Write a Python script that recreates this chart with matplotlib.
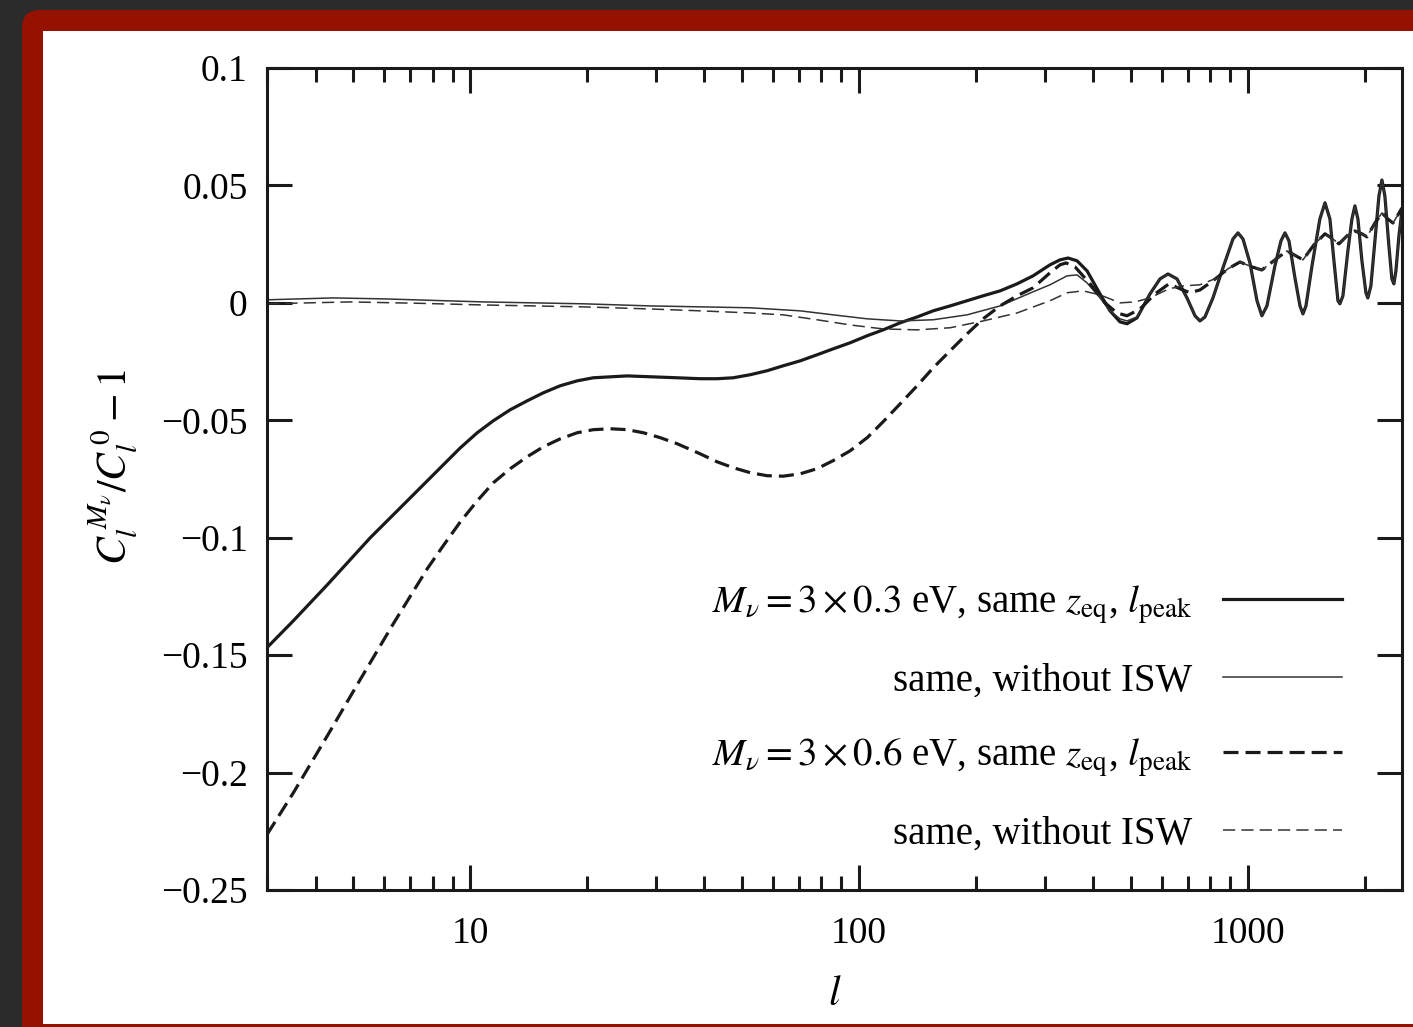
import numpy as np
import matplotlib
matplotlib.use("Agg")
import matplotlib.pyplot as plt
from matplotlib.patches import FancyBboxPatch, Rectangle
from matplotlib.transforms import IdentityTransform

plt.rcParams['font.family'] = ['Liberation Serif', 'DejaVu Serif']
plt.rcParams['mathtext.fontset'] = 'stix'

# ---- data ----
# M_nu = 3 x 0.3 eV, with ISW (thick solid), up to l ~ 520
l_a = [3.0, 3.51, 4.29, 5.53, 7.01, 9.43, 10.42, 11.46, 12.67, 14.01, 15.41, 17.03, 18.84,
       20.71, 25.33, 34.05, 39.03, 43.15, 47.45, 52.46, 58.0, 63.77, 70.5, 77.98, 85.7,
       94.81, 104.9, 115.3, 127.5, 141.0, 155.0, 171.4, 189.5, 208.4, 230.4, 254.8, 280.1,
       309.7, 328.6, 344.6, 363.5, 385.7, 416.4, 441.8, 468.8, 488.6, 518.3]
y_a = [-0.1468, -0.1353, -0.1200, -0.1000, -0.0830, -0.0617, -0.0553, -0.0502, -0.0455,
       -0.0417, -0.0383, -0.0353, -0.0332, -0.0319, -0.0311, -0.0319, -0.0323, -0.0323,
       -0.0319, -0.0306, -0.0289, -0.0268, -0.0247, -0.0221, -0.0196, -0.0170, -0.0140,
       -0.0115, -0.0085, -0.0060, -0.0034, -0.0013, 0.0009, 0.0030, 0.0051, 0.0081, 0.0115,
       0.0162, 0.0183, 0.0191, 0.0179, 0.0136, 0.0038, -0.0034, -0.0081, -0.0089, -0.0064]

# same, without ISW (thin solid), up to l ~ 520
l_b = [3.0, 4.44, 5.97, 10.8, 19.5, 29.0, 52.5, 70.5, 85.7, 104.9, 127.5, 155.0, 189.5,
       230.4, 280.1, 309.7, 342.6, 363.5, 385.7, 416.4, 441.8, 468.8, 488.6, 518.3]
y_b = [0.0013, 0.0021, 0.0017, 0.0004, -0.0004, -0.0013, -0.0021, -0.0034, -0.0051,
       -0.0068, -0.0077, -0.0072, -0.0051, -0.0013, 0.0047, 0.0077, 0.0115, 0.0119, 0.0085,
       0.0021, -0.0034, -0.0068, -0.0077, -0.0060]

# acoustic oscillations for 0.3 eV (both curves coincide here)
l_osc3 = [559.8, 594.0, 622.8, 656.9, 697.0, 730.8, 752.6, 775.2, 812.8, 862.4, 915.1,
          942.6, 971.0, 1012, 1055, 1086, 1119, 1173, 1216, 1245, 1275, 1321, 1361, 1385,
          1410, 1461, 1531, 1578, 1625, 1664, 1704, 1724, 1755, 1807, 1851, 1884, 1918,
          1964, 2011, 2034, 2071, 2121, 2172, 2211, 2250, 2304, 2345, 2373, 2402, 2445, 2489]
y_osc3 = [0.0038, 0.0102, 0.0123, 0.0102, 0.0021, -0.0055, -0.0077, -0.0060, 0.0021,
          0.0149, 0.0272, 0.0298, 0.0272, 0.0170, 0.0009, -0.0055, -0.0013, 0.0157, 0.0264,
          0.0298, 0.0264, 0.0106, -0.0013, -0.0047, -0.0013, 0.0157, 0.0357, 0.0426, 0.0357,
          0.0179, 0.0009, -0.0004, 0.0030, 0.0221, 0.0357, 0.0413, 0.0357, 0.0179, 0.0043,
          0.0021, 0.0072, 0.0264, 0.0455, 0.0523, 0.0455, 0.0243, 0.0102, 0.0081, 0.0136,
          0.0285, 0.0391]

# M_nu = 3 x 0.6 eV, with ISW (thick dashed), up to l ~ 890
l_c = [3.0, 3.51, 4.29, 5.21, 6.34, 7.75, 8.52, 9.43, 10.42, 11.46, 12.67, 14.01, 15.41,
       17.03, 18.84, 20.71, 22.91, 25.33, 27.85, 30.79, 34.05, 39.03, 43.15, 47.45, 52.46,
       58.0, 63.77, 70.5, 77.98, 85.7, 94.81, 104.9, 115.3, 127.5, 141.0, 155.0, 171.4,
       189.5, 208.4, 230.4, 254.8, 280.1, 309.7, 328.6, 340.6, 359.2, 392.7, 429.0, 460.5,
       488.6, 527.8, 576.7, 626.5, 668.7, 709.4, 752.6, 812.8, 888.3]
y_c = [-0.2264, -0.2085, -0.1843, -0.1604, -0.1366, -0.1132, -0.1034, -0.0932, -0.0843,
       -0.0766, -0.0706, -0.0655, -0.0613, -0.0579, -0.0553, -0.0540, -0.0536, -0.0540,
       -0.0553, -0.0574, -0.0600, -0.0643, -0.0677, -0.0702, -0.0723, -0.0736, -0.0738,
       -0.0728, -0.0706, -0.0672, -0.0630, -0.0574, -0.0506, -0.0430, -0.0353, -0.0277,
       -0.0204, -0.0132, -0.0068, -0.0013, 0.0030, 0.0064, 0.0128, 0.0162, 0.0170, 0.0153,
       0.0081, 0.0, -0.0043, -0.0055, -0.0026, 0.0038, 0.0081, 0.0060, 0.0043, 0.0055,
       0.0094, 0.0145]

# same, without ISW (thin dashed), up to l ~ 890
l_d = [3.0, 4.91, 7.44, 10.8, 19.5, 29.0, 39.03, 52.46, 63.77, 77.98, 94.81, 115.3, 141.0,
       171.4, 208.4, 254.8, 309.7, 342.6, 376.5, 416.4, 468.8, 512.2, 559.8, 626.5, 680.7,
       752.6, 832.5, 888.3]
y_d = [-0.0004, 0.0004, -0.0002, -0.0009, -0.0017, -0.0026, -0.0034, -0.0043, -0.0051,
       -0.0072, -0.0094, -0.0111, -0.0115, -0.0106, -0.0077, -0.0043, 0.0009, 0.0043,
       0.0051, 0.0034, 0.0, 0.0004, 0.0021, 0.0060, 0.0072, 0.0077, 0.0106, 0.0145]

# acoustic oscillations for 0.6 eV (both curves coincide here)
l_osc6 = [953.7, 1024, 1086, 1173, 1260, 1329, 1385, 1478, 1578, 1654, 1714, 1807, 1884,
          1964, 2023, 2121, 2211, 2290, 2360, 2430, 2489]
y_osc6 = [0.0174, 0.0153, 0.0140, 0.0183, 0.0221, 0.0200, 0.0183, 0.0247, 0.0294, 0.0272,
          0.0251, 0.0289, 0.0306, 0.0294, 0.0281, 0.0340, 0.0383, 0.0357, 0.0340, 0.0374,
          0.0404]

labels = [r'$M_\nu = 3\times0.3$ eV, same $z_{\rm eq}$, $l_{\rm peak}$',
          'same, without ISW',
          r'$M_\nu = 3\times0.6$ eV, same $z_{\rm eq}$, $l_{\rm peak}$',
          'same, without ISW']
yticks = [-0.25, -0.2, -0.15, -0.1, -0.05, 0, 0.05, 0.1]
yticklabels = ['\u22120.25', '\u22120.2', '\u22120.15', '\u22120.1', '\u22120.05', '0', '0.05', '0.1']
xticks = [10, 100, 1000]

W, H = 1413, 1027
fig = plt.figure(figsize=(W / 100, H / 100), dpi=100)
fig.patch.set_facecolor('#2b2b2b')

# screenshot frame
px = IdentityTransform()
fig.patches.append(FancyBboxPatch((22, -80), 1500, H - 10 + 80,
                                  boxstyle='round,pad=0,rounding_size=18',
                                  fc='#951200', ec='none', transform=px, figure=fig,
                                  zorder=-2))
fig.patches.append(Rectangle((43, 3), 1500, H - 31 - 3, fc='white', ec='none',
                             transform=px, figure=fig, zorder=-1))

ax = fig.add_axes([267 / W, 1 - 890 / H, (1402 - 267) / W, (890 - 68) / H])
ax.set_facecolor('none')

k = '#1a1a1a'
ax.plot(l_a + l_osc3, y_a + y_osc3, color=k, lw=2.3, label=labels[0])
ax.plot(l_b + l_osc3, y_b + y_osc3, color='#333333', lw=1.1, label=labels[1])
ax.plot(l_c + l_osc6, y_c + y_osc6, color=k, lw=2.3, dashes=(4.7, 2.2), label=labels[2])
ax.plot(l_d + l_osc6, y_d + y_osc6, color='#333333', lw=1.1, dashes=(8, 4),
        label=labels[3])

ax.set_xscale('log')
ax.set_xlim(3, 2490)
ax.set_ylim(-0.25, 0.1)
ax.set_yticks(yticks)
ax.set_yticklabels(yticklabels)
ax.set_xticks(xticks)
ax.set_xticklabels([str(t) for t in xticks])
ax.yaxis.set_minor_locator(matplotlib.ticker.NullLocator())

for s in ax.spines.values():
    s.set_linewidth(2.2)
    s.set_color(k)
ax.tick_params(which='both', direction='in', top=True, right=True, color=k, width=2.2,
               labelsize=27)
ax.tick_params(which='major', length=18)
ax.tick_params(which='minor', length=10)
ax.tick_params(axis='x', which='major', pad=19)
ax.tick_params(axis='y', which='major', pad=14)

ax.set_xlabel('$l$', fontsize=30, labelpad=18)
ax.set_ylabel(r'$C_l^{\,M_\nu}/C_l^{\,0} - 1$', fontsize=30)
ax.yaxis.set_label_coords(-0.112, 0.515)

ax.legend(loc='lower right', bbox_to_anchor=(0.947, 0.045), frameon=False,
          markerfirst=False, fontsize=28, handlelength=3.05, handletextpad=0.8,
          labelspacing=0.95, borderpad=0, borderaxespad=0)

fig.savefig('out.png', dpi=100, facecolor=fig.get_facecolor())
